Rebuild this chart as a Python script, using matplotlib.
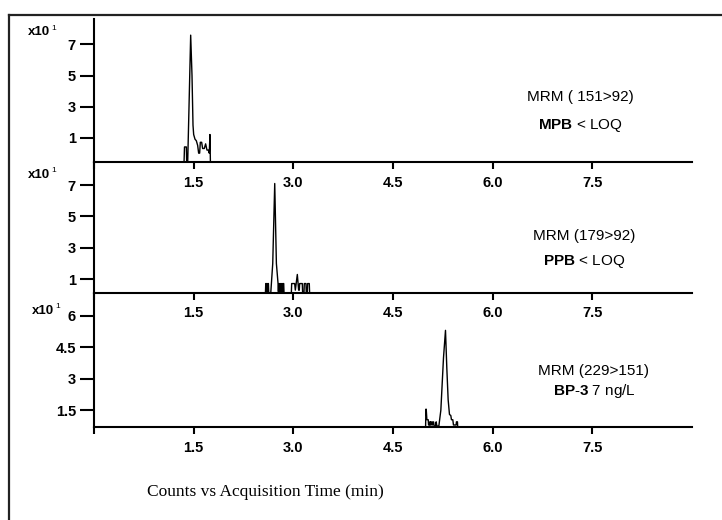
import matplotlib
matplotlib.use("Agg")
import matplotlib.pyplot as plt
from matplotlib.lines import Line2D

plt.rcParams['font.family'] = ['Liberation Sans', 'DejaVu Sans']
plt.rcParams['mathtext.fontset'] = 'custom'
plt.rcParams['mathtext.rm'] = 'Liberation Sans'
plt.rcParams['mathtext.bf'] = 'Liberation Sans:bold'

# MRM traces (time in min, counts x10^1)
mpb_t = [1.355, 1.362, 1.39, 1.395, 1.41, 1.43, 1.455, 1.475, 1.49, 1.50, 1.52, 1.54,
         1.56, 1.575, 1.59, 1.60, 1.62, 1.635, 1.66, 1.68, 1.70, 1.72, 1.735, 1.745, 1.752]
mpb_y = [-0.6, 0.4, 0.4, -0.6, -0.6, 3.0, 7.6, 5.0, 1.8, 1.2, 0.9, 0.8,
         0.5, 0.0, 0.0, 0.7, 0.7, 0.3, 0.3, 0.6, 0.2, 0.2, 0.0, 1.2, -0.6]

ppb_t = [2.58, 2.585, 2.595, 2.60, 2.61, 2.615, 2.625, 2.63, 2.66, 2.69, 2.72, 2.745,
         2.77, 2.775, 2.78, 2.785, 2.79, 2.795, 2.80, 2.805, 2.81, 2.815, 2.82, 2.825,
         2.83, 2.835, 2.84, 2.845, 2.85, 2.855, 2.86,
         2.97, 2.975, 3.02, 3.03, 3.06, 3.08, 3.09, 3.095, 3.135, 3.14, 3.16, 3.165,
         3.19, 3.195, 3.21, 3.215, 3.24, 3.245]
ppb_y = [0.1, 0.72, 0.72, 0.1, 0.1, 0.72, 0.72, 0.1, 0.1, 2.0, 7.1, 2.0,
         0.72, 0.2, 0.72, 0.2, 0.72, 0.2, 0.72, 0.2, 0.72, 0.2, 0.72, 0.2,
         0.72, 0.2, 0.72, 0.2, 0.72, 0.72, 0.1,
         0.1, 0.72, 0.72, 0.3, 1.3, 0.3, 0.3, 0.72, 0.72, 0.1, 0.1, 0.72,
         0.72, 0.1, 0.1, 0.72, 0.72, 0.1]

bp3_t = [4.99, 4.995, 5.00, 5.01, 5.03, 5.035, 5.05, 5.055, 5.06, 5.07, 5.075, 5.09,
         5.095, 5.11, 5.12, 5.14, 5.15, 5.16, 5.19, 5.22, 5.26, 5.29, 5.31, 5.33,
         5.35, 5.37, 5.38, 5.40, 5.41, 5.45, 5.455, 5.47, 5.475]
bp3_y = [0.6, 1.55, 1.55, 1.05, 1.05, 0.8, 0.8, 0.95, 0.8, 0.95, 0.8, 0.95,
         0.8, 0.95, 0.75, 0.75, 0.95, 0.75, 0.75, 1.5, 4.0, 5.3, 3.5, 2.0,
         1.3, 1.25, 1.05, 1.05, 0.8, 0.8, 0.95, 0.95, 0.6]

x_ticks = [0, 1.5, 3.0, 4.5, 6.0, 7.5]
x_labels = ['', '1.5', '3.0', '4.5', '6.0', '7.5']

panels = [
    # t, y, ylim, yticks, ytick labels, line 1, line 2
    (mpb_t, mpb_y, (-0.55, 8.64), [1, 3, 5, 7], ['1', '3', '5', '7'],
     'MRM ( 151>92)', r'$\mathbf{MPB}$ < LOQ'),
    (ppb_t, ppb_y, (0.15, 8.49), [1, 3, 5, 7], ['1', '3', '5', '7'],
     'MRM (179>92)', r'$\mathbf{PPB}$ < LOQ'),
    (bp3_t, bp3_y, (0.69, 7.1), [1.5, 3, 4.5, 6], ['1.5', '3', '4.5', '6'],
     'MRM (229>151)', r'$\mathbf{BP}$-$\mathbf{3}$ 7 ng/L'),
]

W, H = 722, 520
fig = plt.figure(figsize=(W / 100, H / 100), dpi=100)

# pixel boxes of the three stacked panels (top, bottom)
boxes = [(19, 161.7), (161.7, 292.5), (292.5, 427.3)]
left, right = 94, 692
# text positions in pixels
mrm_xy = [(580, 97, 126), (584, 236, 262), (594, 371, 391)]
exp_xy = [(28, 32), (28, 175), (32, 311)]

for i, (t, y, ylim, yt, ytl, l1, l2) in enumerate(panels):
    top, bot = boxes[i]
    ax = fig.add_axes([left / W, (H - bot) / H, (right - left) / W, (bot - top) / H])
    ax.plot(t, y, color='black', lw=1.0)
    ax.set_xlim(0, 9)
    ax.set_ylim(*ylim)
    ax.set_xticks(x_ticks)
    ax.set_xticklabels(x_labels, fontsize=10.5, fontweight='bold')
    ax.set_yticks(yt)
    ax.set_yticklabels(ytl, fontsize=10.5, fontweight='bold')
    for s in ['top', 'right']:
        ax.spines[s].set_visible(False)
    for s in ['left', 'bottom']:
        ax.spines[s].set_linewidth(1.5)
    ax.tick_params(axis='x', direction='out', length=5, width=1.5, pad=5)
    ax.tick_params(axis='y', direction='out', length=10, width=1.5, pad=3)
    ax.patch.set_alpha(0)

    xm, y1, y2 = mrm_xy[i]
    fig.text(xm / W, 1 - y1 / H, l1, ha='center', va='center', fontsize=11)
    fig.text(xm / W, 1 - y2 / H, l2, ha='center', va='center', fontsize=11)
    ex, ey = exp_xy[i]
    fig.text(ex / W, 1 - ey / H, 'x10', ha='left', va='center', fontsize=9.5, fontweight='bold')
    fig.text((ex + 23.5) / W, 1 - (ey - 4) / H, '1', ha='left', va='center', fontsize=6)

fig.text(265 / W, 1 - 492 / H, 'Counts vs Acquisition Time (min)', ha='center', va='center',
         fontsize=12.5, family='Liberation Serif')

# outer frame, cut at the right and bottom edges
fig.add_artist(Line2D([9 / W, 1.0], [1 - 14.5 / H, 1 - 14.5 / H], transform=fig.transFigure,
                      color='#222222', lw=1.6))
fig.add_artist(Line2D([9 / W, 9 / W], [1 - 14.5 / H, 0.0], transform=fig.transFigure,
                      color='#222222', lw=1.6))

fig.savefig('out.png', dpi=100)
